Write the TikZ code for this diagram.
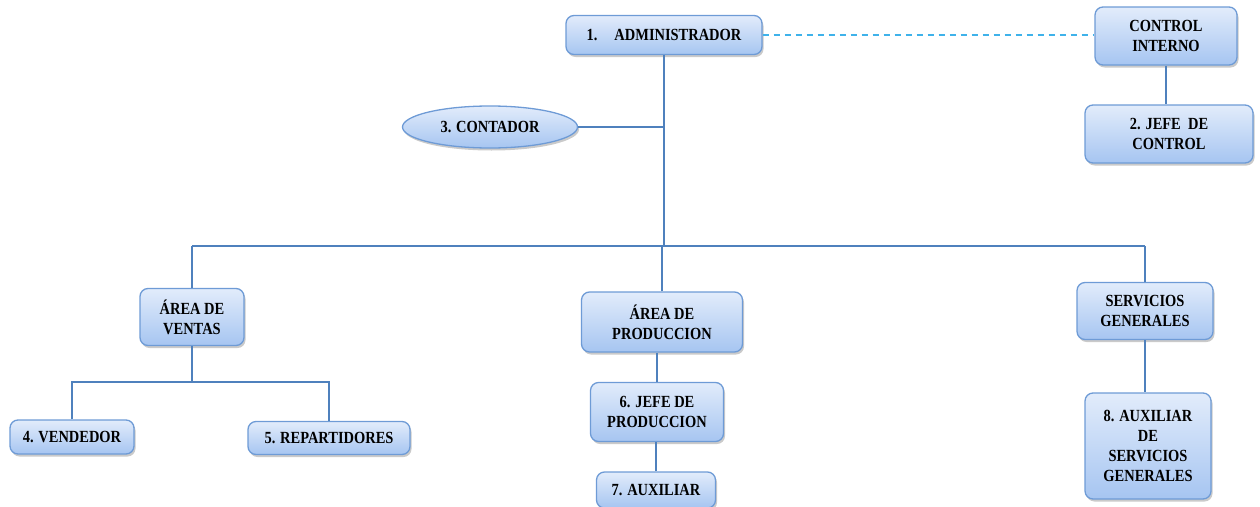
\documentclass[tikz,border=0pt]{standalone}
\usepackage{fontspec}
\newfontfamily\orgfont{Liberation Serif}[FakeStretch=0.85]
\usetikzlibrary{shapes.geometric,shadows}
\definecolor{boxborder}{HTML}{6E9BD6}
\definecolor{boxtop}{HTML}{E2ECFB}
\definecolor{boxbot}{HTML}{A6C5F1}
\definecolor{linkblue}{HTML}{4F81BD}
\definecolor{dashblue}{HTML}{3FB2EA}
\tikzset{
  orgbox/.style={draw=boxborder, line width=1.3pt, rounded corners=8pt,
    top color=boxtop, bottom color=boxbot, align=center, inner sep=2pt,
    font=\orgfont\bfseries\fontsize{17}{20}\selectfont,
    drop shadow={shadow xshift=1.5pt, shadow yshift=-2.5pt, opacity=0.35, fill=black!60}},
  orgoval/.style={orgbox, ellipse, rounded corners=0pt},
  link/.style={draw=linkblue, line width=2.8pt},
  dashlink/.style={draw=dashblue, line width=1.2pt, dash pattern=on 6pt off 5pt}
}
\begin{document}
\begin{tikzpicture}[x=1pt,y=-1pt]
\useasboundingbox (0,0) rectangle (1260,506);
% nodes
\node[orgbox, minimum width=196pt, minimum height=39pt] (admin) at (664,35) {1.\hspace{1em}ADMINISTRADOR};
\node[orgbox, minimum width=142pt, minimum height=58pt] (ci) at (1166,36) {CONTROL\\INTERNO};
\node[orgbox, minimum width=168pt, minimum height=58pt] (jc) at (1169,134) {2. JEFE\ \ DE\\CONTROL};
\node[orgoval, minimum width=175pt, minimum height=42pt, inner sep=0pt] (cont) at (490,127) {3. CONTADOR};
\node[orgbox, minimum width=104pt, minimum height=57pt] (ventas) at (192,317) {ÁREA DE\\VENTAS};
\node[orgbox, minimum width=161pt, minimum height=60pt] (prod) at (662,322) {ÁREA DE\\PRODUCCION};
\node[orgbox, minimum width=136pt, minimum height=57pt] (serv) at (1145,311) {SERVICIOS\\GENERALES};
\node[orgbox, minimum width=124pt, minimum height=34pt] (vend) at (72,437) {4. VENDEDOR};
\node[orgbox, minimum width=162pt, minimum height=33pt] (rep) at (329,438) {5. REPARTIDORES};
\node[orgbox, minimum width=133pt, minimum height=59pt] (jp) at (657,412) {6. JEFE DE\\PRODUCCION};
\node[orgbox, minimum width=119pt, minimum height=36pt] (aux) at (656,490) {7. AUXILIAR};
\node[orgbox, minimum width=126pt, minimum height=106pt] (as) at (1148,446) {8. AUXILIAR\\DE\\SERVICIOS\\GENERALES};
% coordinates
\coordinate (busL) at (192,246);
\coordinate (busM) at (664,246);
\coordinate (busR) at (1145,246);
\coordinate (vb) at (192,382);
% connectors
\draw[dashlink] (admin.east) -- (ci.west |- admin.east);
\draw[link] (ci.south) -- (ci.south |- jc.north);
\draw[link] (admin.south) -- (busM);
\draw[link] (cont.east) -- (cont.east -| admin.south);
\draw[link] (busL) -- (busR);
\draw[link] (busL) -- (ventas.north);
\draw[link] (prod.north) -- (prod.north |- busM);
\draw[link] (serv.north) -- (busR);
\draw[link] (ventas.south) -- (vb);
\draw[link] (vend.north) |- (vb) -| (rep.north);
\draw[link] (jp.north) -- (jp.north |- prod.south);
\draw[link] (aux.north) -- (aux.north |- jp.south);
\draw[link] (serv.south) -- (serv.south |- as.north);
\end{tikzpicture}
\end{document}
